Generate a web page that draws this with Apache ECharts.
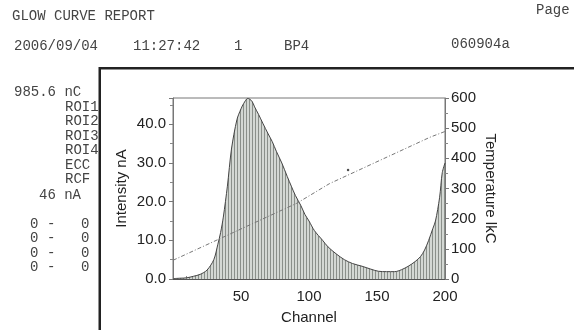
<!DOCTYPE html>
<html>
<head>
<meta charset="utf-8">
<script src="https://cdn.jsdelivr.net/npm/echarts@6/dist/echarts.min.js"></script>
<style>
  html, body { margin: 0; padding: 0; background: #fff; }
  #chart { width: 574px; height: 330px; }
</style>
</head>
<body>
<div id="chart"></div>
<script>
// glow curve
const channels = [0, 5, 10, 15, 20, 25, 30, 33, 35, 37, 40, 43, 47, 50, 52, 55, 58, 60, 63, 66,
  70, 73, 76, 80, 84, 87, 90, 94, 97, 100, 104, 110, 114, 120, 126, 132, 139, 145, 151, 157,
  163, 168, 173, 178, 182, 185, 188, 191, 193, 196, 198, 200];
const intensity = [0.1, 0.2, 0.3, 0.7, 1.2, 2.3, 5, 9, 12, 16, 24, 33.6, 41.2, 44, 45.4, 46.7, 46, 44.5, 42.5, 40.3,
  37.5, 35.5, 33, 30, 26.5, 24, 21.6, 19, 16.7, 15, 12.5, 10, 8.3, 6.5, 5, 4, 3.3, 2.6, 2, 1.9,
  1.9, 2.4, 3.3, 4.5, 5.8, 7.5, 10, 13, 15, 21, 27.5, 30];

// temperature trace (right axis)
const tempChannels = [0, 91, 115, 189, 200];
const temperature = [62, 251, 316, 470, 489];

// stray dot on the scan
const strayDot = [[128.7, 361]];

const headerTitle = 'GLOW CURVE REPORT';
const headerDate = '2006/09/04';
const headerTime = '11:27:42';
const headerNum = '1';
const headerId = 'BP4';
const headerFile = '060904a';
const totalCharge = '985.6 nC';
const peakCurrent = '46 nA';
const sideLabels = ['ROI1', 'ROI2', 'ROI3', 'ROI4', 'ECC', 'RCF'];
const roiRows = [['0', '0'], ['0', '0'], ['0', '0'], ['0', '0']];

const mono = '"Liberation Mono", "DejaVu Sans Mono", monospace';
const sans = '"Liberation Sans", Arial, sans-serif';

// vertical hatching for the area
const pat = document.createElement('canvas');
pat.width = 3; pat.height = 4;
const pctx = pat.getContext('2d');
pctx.fillStyle = '#d4d8d4';
pctx.fillRect(0, 0, 3, 4);
pctx.fillStyle = '#8a8f8a';
pctx.fillRect(0, 0, 1, 4);

const chart = echarts.init(document.getElementById('chart'), null, { renderer: 'canvas' });

const monoText = (x, y, text) => ({
  type: 'text', x: x, y: y,
  style: { text: text, font: '14px ' + mono, fill: '#444', align: 'left', verticalAlign: 'middle' }
});

const graphics = [
  monoText(12, 16, headerTitle),
  monoText(536, 10, 'Page'),
  monoText(14, 46, headerDate),
  monoText(133, 46, headerTime),
  monoText(234, 46, headerNum),
  monoText(284, 46, headerId),
  monoText(451, 44, headerFile),
  monoText(14, 92, totalCharge),
  monoText(39, 195, peakCurrent)
];
sideLabels.forEach((t, i) => graphics.push(monoText(65, 107 + i * 14.5, t)));
roiRows.forEach((r, i) => {
  const y = 224 + i * 14.4;
  graphics.push(monoText(30, y, r[0]));
  graphics.push(monoText(47, y, '-'));
  graphics.push(monoText(81, y, r[1]));
});
graphics.push({
  type: 'rect', shape: { x: 99, y: 67, width: 475, height: 2.5 },
  style: { fill: '#222' }
});
graphics.push({
  type: 'rect', shape: { x: 98.5, y: 67, width: 2.5, height: 263 },
  style: { fill: '#222' }
});

chart.setOption({
  animation: false,
  backgroundColor: '#fff',
  graphic: graphics,
  grid: {
    left: 173, right: 129, top: 98, bottom: 46.5,
    show: true, borderColor: '#777', borderWidth: 1
  },
  xAxis: {
    type: 'value', min: 0, max: 200, interval: 50,
    name: 'Channel', nameLocation: 'middle', nameGap: 31,
    nameTextStyle: { fontFamily: sans, fontSize: 15, color: '#222' },
    axisLine: { lineStyle: { color: '#555' } },
    axisTick: { show: true, inside: true, length: 3, lineStyle: { color: '#777' } },
    minorTick: { show: true, splitNumber: 5, length: 3, lineStyle: { color: '#888' } },
    axisLabel: { showMinLabel: false, fontFamily: sans, fontSize: 15, color: '#222', margin: 10 },
    splitLine: { show: false }
  },
  yAxis: [{
    type: 'value', min: 0, max: 46.8, interval: 10,
    name: 'Intensity nA', nameLocation: 'middle', nameGap: 44, nameRotate: 90,
    nameTextStyle: { fontFamily: sans, fontSize: 15, color: '#222' },
    axisLine: { show: true, lineStyle: { color: '#777' } },
    axisTick: { show: true, length: 4, lineStyle: { color: '#777' } },
    minorTick: { show: true, splitNumber: 2, length: 3, lineStyle: { color: '#888' } },
    axisLabel: {
      showMaxLabel: false, fontFamily: sans, fontSize: 15, color: '#222', margin: 7,
      formatter: v => v.toFixed(1)
    },
    splitLine: { show: false }
  }, {
    type: 'value', min: 0, max: 600, interval: 100, position: 'right',
    name: 'Temperature lkC', nameLocation: 'middle', nameGap: 38, nameRotate: -90,
    nameTextStyle: { fontFamily: sans, fontSize: 15, color: '#222' },
    axisLine: { show: true, lineStyle: { color: '#777' } },
    axisTick: { show: true, length: 4, lineStyle: { color: '#777' } },
    minorTick: { show: true, splitNumber: 2, length: 3, lineStyle: { color: '#888' } },
    axisLabel: { fontFamily: sans, fontSize: 15, color: '#222', margin: 6 },
    splitLine: { show: false }
  }],
  series: [{
    type: 'line', name: 'Intensity',
    data: channels.map((c, i) => [c, intensity[i]]),
    showSymbol: false, smooth: 0.3,
    lineStyle: { color: '#444', width: 1 },
    areaStyle: { color: { image: pat, repeat: 'repeat' }, opacity: 1 }
  }, {
    type: 'line', name: 'Temperature', yAxisIndex: 1,
    data: tempChannels.map((c, i) => [c, temperature[i]]),
    showSymbol: false,
    lineStyle: { color: '#777', width: 1, type: [4, 2, 1, 2] }
  }, {
    type: 'scatter', yAxisIndex: 1, data: strayDot,
    symbolSize: 2.5, itemStyle: { color: '#222' }
  }]
});
</script>
</body>
</html>
